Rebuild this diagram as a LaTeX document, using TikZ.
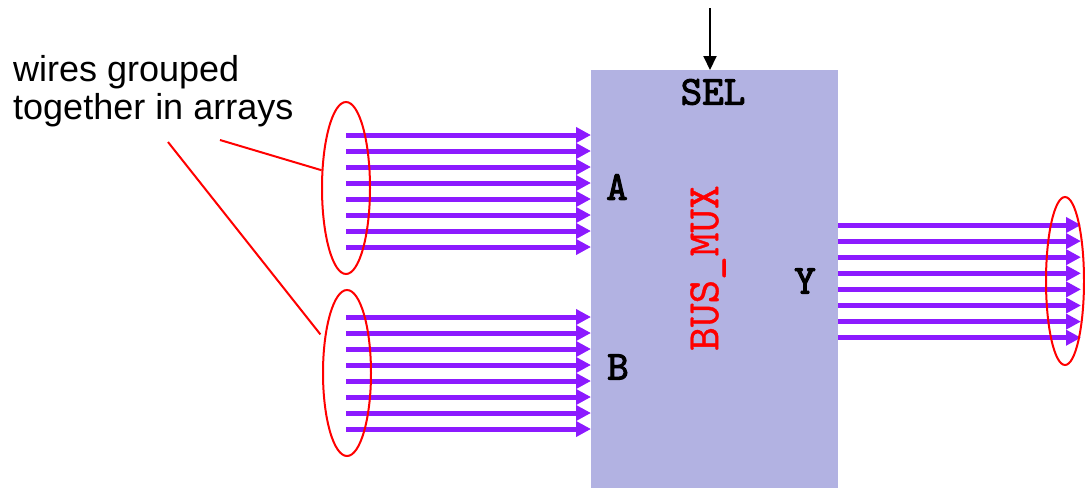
\documentclass[tikz,border=0pt]{standalone}
\usepackage{fontspec}
\setmainfont{Liberation Sans}
\newfontfamily\courbf[FakeBold=2.5]{lmmono10-regular.otf}
\newfontfamily\courrg[FakeBold=0.8]{lmmono10-regular.otf}
\usetikzlibrary{arrows.meta,shapes.geometric}
\definecolor{muxfill}{RGB}{178,178,226}
\definecolor{wire}{RGB}{140,26,255}
\tikzset{
  wirearrow/.style={wire, line width=5pt, -{Triangle[length=15pt,width=15pt]}},
  grp/.style={draw=red, line width=2pt, ellipse, inner sep=0pt},
  callout/.style={red, line width=2pt},
  port/.style={font=\fontsize{41}{41}\selectfont\courbf, inner sep=0pt},
}
\begin{document}
\begin{tikzpicture}[x=1pt,y=-1pt]
\useasboundingbox (0,0) rectangle (1085,488);
% mux box
\node[fill=muxfill, minimum width=247pt, minimum height=418pt, inner sep=0pt, anchor=north west] (mux) at (591,70) {};
\coordinate (selin) at (710,8);
\draw[black, line width=2pt, -{Triangle[length=14pt,width=13pt]}] (selin) -- (selin |- mux.north);
\node[port] (sel) at (713,92) {SEL};
\node[port] (pa) at (617,187) {A};
\node[port] (pb) at (618,367) {B};
\node[port] (py) at (805,281) {Y};
\node[rotate=90, red, inner sep=0pt, font=\fontsize{45}{45}\selectfont\courrg] (name) at (708,268) {BUS\_MUX};
% wires
\foreach \i in {0,...,7} {
  \coordinate (as\i) at (346,{135+16*\i});
  \coordinate (bs\i) at (346,{317+16*\i});
  \coordinate (ys\i) at (1081,{225+16.1*\i});
  \draw[wirearrow] (as\i) -- (as\i -| mux.west);
  \draw[wirearrow] (bs\i) -- (bs\i -| mux.west);
  \draw[wirearrow] (ys\i -| mux.east) -- (ys\i);
}
% group ellipses
\node[grp, minimum width=48pt, minimum height=172pt] (ga) at (346,188) {};
\node[grp, minimum width=48pt, minimum height=166pt] (gb) at (347,373) {};
\node[grp, minimum width=38pt, minimum height=168pt] (gy) at (1065,281) {};
% label
\node[anchor=base west, align=left, inner sep=0pt, font=\fontsize{36}{38}\selectfont] (lbl) at (13,119) {wires grouped\\together in arrays};
\coordinate (c1) at (220,140);
\coordinate (c2) at (168,142);
\draw[callout] (c1) -- (ga.144);
\draw[callout, shorten >=6pt] (c2) -- (gb.124);
\end{tikzpicture}
\end{document}
